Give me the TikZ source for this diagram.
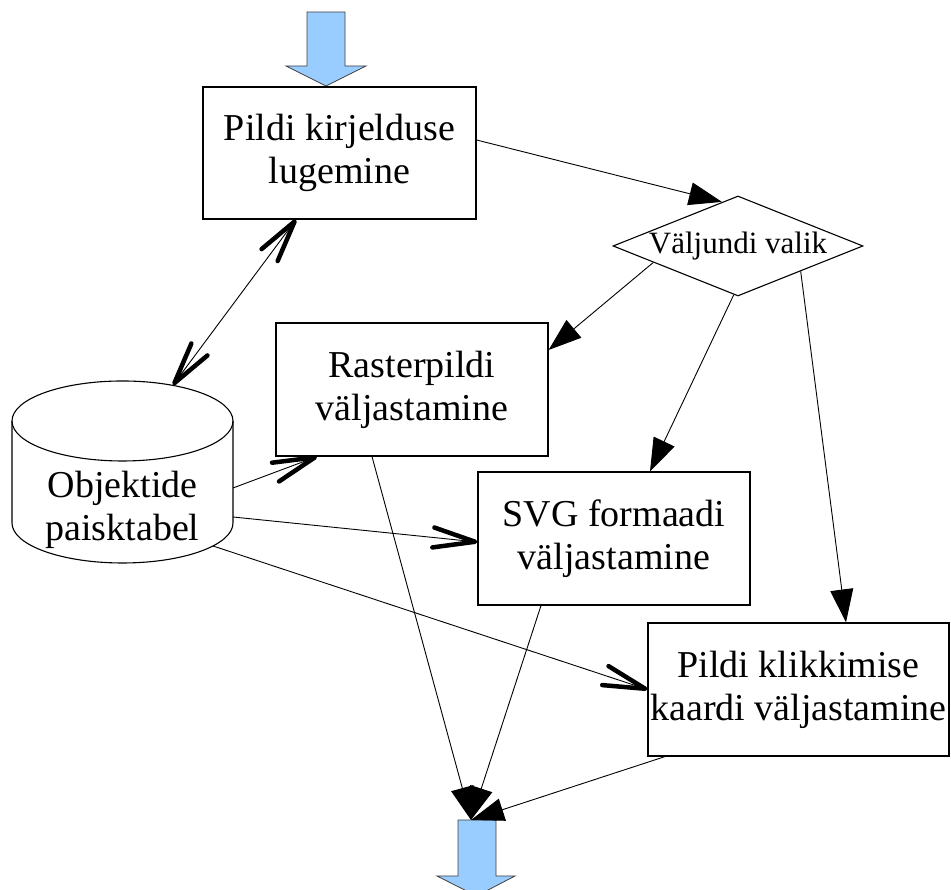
\documentclass[tikz,border=0pt]{standalone}
\usepackage{fontspec}
\setmainfont{Liberation Serif}
\usetikzlibrary{arrows.meta,shapes.geometric,calc}
\definecolor{flowblue}{RGB}{153,204,255}
\begin{document}
\begin{tikzpicture}[x=1pt,y=1pt,
  procbox/.style={draw, line width=1.2pt, rectangle, inner sep=0pt, align=center,
    font=\fontsize{38}{43}\selectfont},
  choice/.style={draw, line width=1.1pt, diamond, inner sep=0pt,
    minimum width=250pt, minimum height=100pt, font=\fontsize{31}{36}\selectfont},
  flow/.style={line width=0.9pt, -{Triangle[length=33pt,width=23pt]}},
  dataflow/.style={line width=0.9pt,
    -{Straight Barb[length=42pt,width=20pt,line width=4.5pt,round]}},
  bothflow/.style={line width=0.9pt,
    {Straight Barb[length=42pt,width=20pt,line width=4.5pt,round]}-{Straight Barb[length=42pt,width=20pt,line width=4.5pt,round]}},
  blockarrow/.style={fill=flowblue, draw=black!75, line width=0.8pt}]

\useasboundingbox (0,0) rectangle (951,890);

% input and output block arrows
\draw[blockarrow] (307,878) -- (345,878) -- (345,824) -- (366,824) -- (326,804)
  -- (286,824) -- (307,824) -- cycle;
\draw[blockarrow] (458,70) -- (496,70) -- (496,14) -- (515,14) -- (476.5,-6)
  -- (437,14) -- (458,14) -- cycle;
\coordinate (sink) at (471,70);

% process boxes
\node[procbox, minimum width=273pt, minimum height=132pt] (read) at (339.5,737)
  {Pildi kirjelduse\\lugemine};
\node[choice] (out) at (738,644) {\makebox[0pt]{Väljundi valik}};
\node[procbox, minimum width=272pt, minimum height=133pt] (raster) at (412,500.5)
  {Rasterpildi\\väljastamine};
\node[procbox, minimum width=272pt, minimum height=133pt] (svg) at (614,351.5)
  {SVG formaadi\\väljastamine};
\node[procbox, minimum width=301pt, minimum height=133pt] (clickmap) at (798.5,200.5)
  {Pildi klikkimise\\kaardi väljastamine};

% hash table store (cylinder)
\draw[line width=1.1pt, fill=white] (12,469) -- (12,367)
  arc[start angle=180, end angle=360, x radius=110.5, y radius=40]
  -- (233,469)
  arc[start angle=0, end angle=180, x radius=110.5, y radius=40] -- cycle;
\draw[line width=1.1pt] (12,469)
  arc[start angle=180, end angle=360, x radius=110.5, y radius=40];
\node[align=center, inner sep=0pt, font=\fontsize{38}{43}\selectfont] (db)
  at (122.5,380) {Objektide\\paisktabel};

% control flow
\draw[flow] ($(read.east)+(0,13)$) -- (out.110);
\draw[flow] (out.191) -- ($(raster.east)+(0,39.5)$);
\draw[flow] (out.265) -- ($(svg.north)+(36,0)$);
\draw[flow] (out.338) -- ($(clickmap.north)+(47.5,0)$);
\draw[flow] ($(raster.south)+(-40,0)$) -- (sink);
\draw[flow] ($(svg.south)+(-73,0)$) -- (sink);
\draw[flow] ($(clickmap.south)+(-133.5,0)$) -- (sink);

% data flow to and from the hash table
\draw[bothflow] ($(read.south)+(-43.5,0)$) -- ($(db.center)+(50.5,125)$);
\draw[dataflow] ($(db.center)+(110.5,22)$) -- ($(raster.south)+(-95,0)$);
\draw[dataflow] ($(db.center)+(110.5,-7)$) -- ($(svg.west)+(0,-3.5)$);
\draw[dataflow] ($(db.center)+(90.5,-36)$) -- (clickmap.west);
\end{tikzpicture}
\end{document}
